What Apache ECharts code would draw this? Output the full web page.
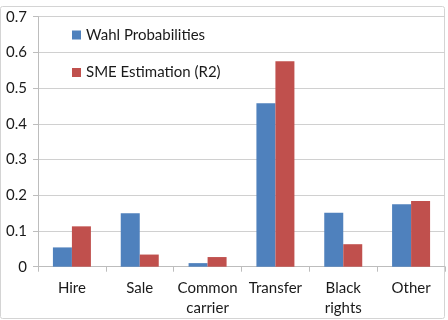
<!DOCTYPE html>
<html><head><meta charset="utf-8">
<script src="https://cdn.jsdelivr.net/npm/echarts@6/dist/echarts.min.js"></script>
<style>html,body{margin:0;padding:0;background:#fff}#c{width:448px;height:320px}</style>
</head><body><div id="c"></div>
<script>
const categories = ['Hire', 'Sale', 'Common\ncarrier', 'Transfer', 'Black\nrights', 'Other'];
const wahl = [0.054, 0.150, 0.010, 0.458, 0.151, 0.175];
const sme = [0.113, 0.034, 0.027, 0.575, 0.063, 0.184];
const yTicks = { min: 0, max: 0.7, interval: 0.1 };
const seriesNames = ['Wahl Probabilities', 'SME Estimation (R2)'];

const FONT = 'Lato';
const chart = echarts.init(document.getElementById('c'), null, { renderer: 'canvas' });
chart.setOption({
  animation: false,
  backgroundColor: '#fff',
  graphic: [{
    type: 'rect', shape: { x: 0.5, y: 6.5, width: 444, height: 312, r: 2 },
    style: { fill: 'none', stroke: '#d4d4d4', lineWidth: 1 }, silent: true, z: -1
  }],
  grid: { left: 38, right: 3, top: 16.7, bottom: 53.3, containLabel: false },
  legend: {
    orient: 'vertical', left: 72, top: 27, padding: 0, itemWidth: 9, itemHeight: 9, itemGap: 21.5,
    icon: 'rect',
    textStyle: { fontFamily: FONT, fontSize: 15, color: '#1a1a1a', lineHeight: 16 },
    data: seriesNames
  },
  xAxis: {
    type: 'category', data: categories,
    axisLine: { lineStyle: { color: '#bdbdbd' } },
    axisTick: { show: true, length: 5, lineStyle: { color: '#bdbdbd' } },
    axisLabel: { interval: 0, margin: 11, fontFamily: FONT, fontSize: 15, color: '#1a1a1a', lineHeight: 20 }
  },
  yAxis: {
    type: 'value', min: yTicks.min, max: yTicks.max, interval: yTicks.interval,
    axisLine: { show: true, lineStyle: { color: '#bdbdbd' } },
    axisTick: { show: true, length: 5, lineStyle: { color: '#bdbdbd' } },
    splitLine: { lineStyle: { color: '#d0d0d0' } },
    axisLabel: { margin: 11, fontFamily: FONT, fontSize: 15, color: '#1a1a1a' }
  },
  series: [
    { name: seriesNames[0], type: 'bar', data: wahl, barWidth: 19, barGap: '0%', itemStyle: { color: '#4f81bd' } },
    { name: seriesNames[1], type: 'bar', data: sme, barWidth: 19, barGap: '0%', itemStyle: { color: '#c0504d' } }
  ]
});
</script></body></html>
